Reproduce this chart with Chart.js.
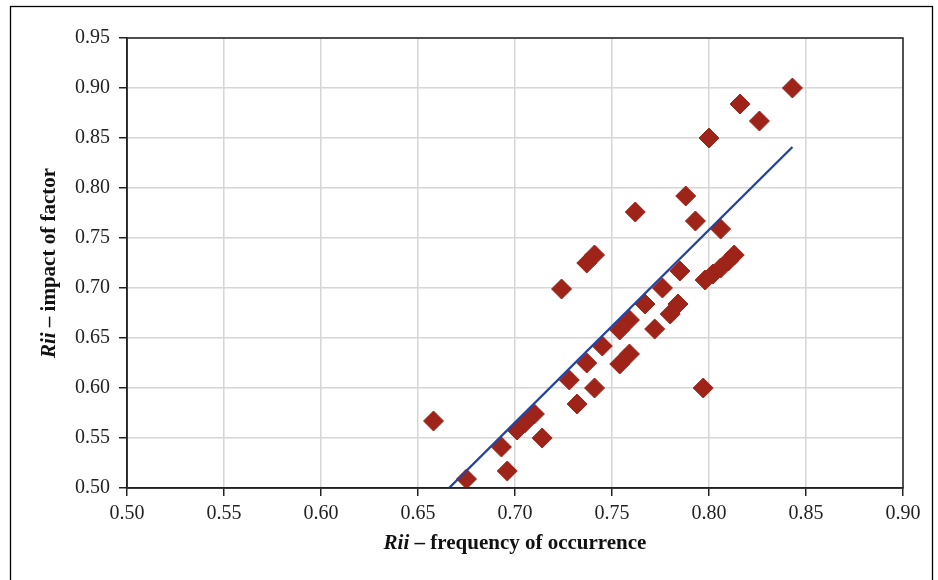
<!DOCTYPE html>
<html>
<head>
<meta charset="utf-8">
<title>Rii frequency vs impact</title>
<script src="https://cdn.jsdelivr.net/npm/chart.js@4.4.0/dist/chart.umd.min.js"></script>
<style>
    html, body { margin: 0; padding: 0; background: #fff; }
    #chart { display: block; }
</style>
</head>
<body>
<canvas id="chart" width="938" height="580"></canvas>
<script>
// Rii values: frequency of occurrence (x) vs impact of factor (y)
const freqValues = [
    0.658, 0.675, 0.693, 0.696, 0.701, 0.705, 0.710, 0.714, 0.724, 0.728,
    0.732, 0.737, 0.737, 0.741, 0.741, 0.745, 0.754, 0.759, 0.754, 0.759,
    0.762, 0.767, 0.772, 0.776, 0.780, 0.784, 0.785, 0.788, 0.793, 0.797,
    0.798, 0.802, 0.806, 0.810, 0.813, 0.806, 0.800, 0.816, 0.826, 0.843
];
const impactValues = [
    0.567, 0.509, 0.541, 0.517, 0.558, 0.565, 0.574, 0.550, 0.699, 0.608,
    0.584, 0.625, 0.725, 0.733, 0.600, 0.642, 0.624, 0.634, 0.658, 0.668,
    0.776, 0.684, 0.659, 0.700, 0.674, 0.684, 0.717, 0.792, 0.767, 0.600,
    0.708, 0.714, 0.720, 0.727, 0.733, 0.759, 0.850, 0.884, 0.867, 0.900
];

// linear trend line, start and end
const trendX = [0.666, 0.843];
const trendY = [0.500, 0.841];

const xTicks = [0.50, 0.55, 0.60, 0.65, 0.70, 0.75, 0.80, 0.85, 0.90];
const yTicks = [0.50, 0.55, 0.60, 0.65, 0.70, 0.75, 0.80, 0.85, 0.90, 0.95];

const xTitle = ["Rii", " \u2013 frequency of occurrence"];
const yTitle = ["Rii", " \u2013 impact of factor"];

const FONT = "'Liberation Serif', 'DejaVu Serif', serif";

// draws the plot frame, outer box and the axis titles (italic "Rii" + bold text)
const framePlugin = {
    id: "frame",
    afterDraw(chart) {
        const ctx = chart.ctx;
        const a = chart.chartArea;
        ctx.save();
        ctx.strokeStyle = "#222";
        ctx.lineWidth = 1.5;
        ctx.strokeRect(a.left, a.top, a.right - a.left, a.bottom - a.top);

        ctx.strokeStyle = "#000";
        ctx.lineWidth = 1.3;
        ctx.strokeRect(10.5, 6.5, 922, 620);

        function mixedTitle(parts, cx, cy) {
            const f1 = "italic bold 21px " + FONT;
            const f2 = "bold 21px " + FONT;
            ctx.font = f1;
            const w1 = ctx.measureText(parts[0]).width;
            ctx.font = f2;
            const w2 = ctx.measureText(parts[1]).width;
            let x = cx - (w1 + w2) / 2;
            ctx.fillStyle = "#111";
            ctx.textBaseline = "middle";
            ctx.textAlign = "left";
            ctx.font = f1;
            ctx.fillText(parts[0], x, cy);
            ctx.font = f2;
            ctx.fillText(parts[1], x + w1, cy);
        }

        mixedTitle(xTitle, (a.left + a.right) / 2, 544);

        ctx.translate(50, (a.top + a.bottom) / 2);
        ctx.rotate(-Math.PI / 2);
        mixedTitle(yTitle, 0, 0);
        ctx.restore();
    }
};

const points = freqValues.map((v, i) => ({ x: v, y: impactValues[i] }));
const trend = trendX.map((v, i) => ({ x: v, y: trendY[i] }));

new Chart(document.getElementById("chart"), {
    type: "scatter",
    data: {
        datasets: [
            {
                type: "line",
                data: trend,
                borderColor: "#2444a0",
                borderWidth: 2.4,
                pointRadius: 0,
                fill: false,
                order: 0
            },
            {
                data: points,
                pointStyle: "rectRot",
                pointRadius: 10,
                backgroundColor: "#9e2318",
                borderColor: "#9e2318",
                borderWidth: 1,
                order: 1
            }
        ]
    },
    options: {
        responsive: false,
        animation: false,
        devicePixelRatio: 1,
        layout: { padding: { top: 38, right: 35, bottom: 0, left: 0 } },
        plugins: {
            legend: { display: false },
            tooltip: { enabled: false }
        },
        scales: {
            x: {
                type: "linear",
                min: 0.50,
                max: 0.90,
                afterBuildTicks(scale) {
                    scale.ticks = xTicks.map(v => ({ value: v }));
                },
                afterFit(scale) { scale.height = 92; },
                ticks: {
                    callback: v => v.toFixed(2),
                    color: "#222",
                    font: { family: FONT, size: 20 },
                    padding: 6,
                    maxRotation: 0
                },
                grid: {
                    color: "#d6d6d6",
                    lineWidth: 1.5,
                    tickColor: "#222",
                    tickLength: 8,
                    tickWidth: 1.5
                },
                border: { color: "#222", width: 1.5 }
            },
            y: {
                type: "linear",
                min: 0.50,
                max: 0.95,
                afterBuildTicks(scale) {
                    scale.ticks = yTicks.map(v => ({ value: v }));
                },
                afterFit(scale) { scale.width = 127; },
                ticks: {
                    callback: v => v.toFixed(2),
                    color: "#222",
                    font: { family: FONT, size: 20 },
                    padding: 9
                },
                grid: {
                    color: "#d6d6d6",
                    lineWidth: 1.5,
                    tickColor: "#222",
                    tickLength: 8,
                    tickWidth: 1.5
                },
                border: { color: "#222", width: 1.5 }
            }
        }
    },
    plugins: [framePlugin]
});
</script>
</body>
</html>
